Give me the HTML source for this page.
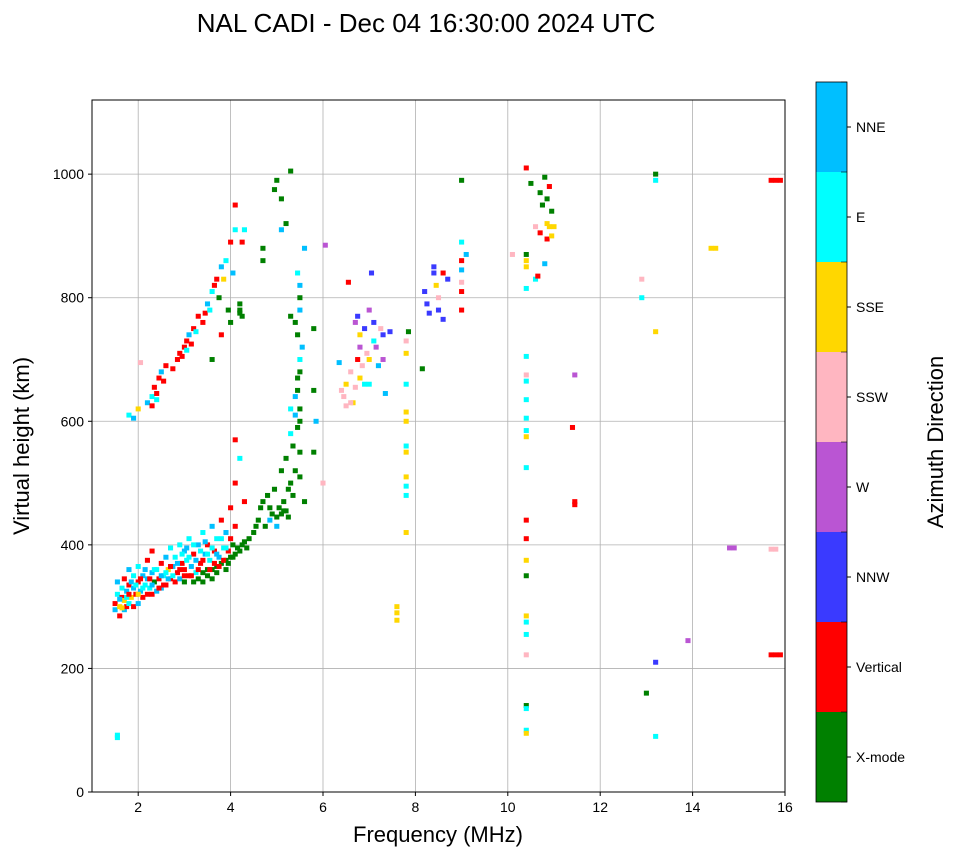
<!DOCTYPE html>
<html><head><meta charset="utf-8"><style>
body{margin:0;background:#fff;font-family:"Liberation Sans",sans-serif}
svg text{font-family:"Liberation Sans",sans-serif}
</style></head><body>
<svg id="chart" width="958" height="857" viewBox="0 0 958 857" xmlns="http://www.w3.org/2000/svg">
<text x="426" y="32" font-size="26" text-anchor="middle">NAL CADI - Dec 04 16:30:00 2024 UTC</text>
<g id="grid"></g>
<g id="marks"></g>
<rect x="92" y="100" width="693" height="692" fill="none" stroke="#000" stroke-width="1"/>
<g id="ticks"></g>
<text x="438" y="842" font-size="22" text-anchor="middle">Frequency (MHz)</text>
<text transform="translate(29,446) rotate(-90)" font-size="22" text-anchor="middle">Virtual height (km)</text>
<g id="cbar"></g>
<text transform="translate(943,442) rotate(-90)" font-size="22" text-anchor="middle">Azimuth Direction</text>
</svg>
<script>
const categories=["X-mode","Vertical","NNW","W","SSW","SSE","E","NNE"];
const colors=["#008000","#ff0000","#3a3aff","#ba55d3","#ffb6c1","#ffd700","#00ffff","#00bfff"];
const xTicks=[2,4,6,8,10,12,14,16];
const yTicks=[0,200,400,600,800,1000];
const points=[
[1.5,295,7],[1.5,305,1],[1.55,320,6],[1.55,340,7],[1.6,285,1],[1.6,300,5],[1.65,315,1],[1.65,330,6],[1.7,295,7],[1.7,310,5],[1.7,345,1],[1.75,300,1],[1.75,325,7],[1.8,305,6],[1.8,335,1],[1.8,360,7],[1.85,315,5],[1.9,300,1],[1.9,330,7],[1.9,350,6],[1.95,320,1],[2.0,305,7],[2.0,340,1],[2.0,365,6],[2.05,325,7],[2.1,315,1],[2.1,350,7],[2.15,335,6],[2.2,320,1],[2.2,345,7],[2.2,375,1],[2.25,330,6],[2.3,320,1],[2.3,355,7],[2.3,390,1],[2.35,340,0],[2.4,325,7],[2.4,360,6],[2.45,345,1],[2.5,330,7],[2.5,370,1],[2.55,350,6],[2.6,335,1],[2.6,380,7],[2.65,360,5],[2.7,345,1],[2.7,395,6],[2.75,365,7],[2.8,340,1],[2.8,380,6],[2.85,355,1],[2.9,345,7],[2.9,400,6],[2.95,370,1],[3.0,340,0],[3.0,360,1],[3.0,390,7],[3.05,375,6],[3.1,350,1],[3.1,410,6],[3.15,365,7],[3.2,340,0],[3.2,385,1],[3.25,355,6],[3.3,345,0],[3.3,400,7],[3.35,370,1],[3.4,355,0],[3.4,420,6],[3.45,385,7],[3.5,360,0],[3.5,400,1],[3.55,375,6],[3.6,360,0],[3.6,430,7],[3.65,390,1],[3.7,365,0],[3.7,410,6],[3.75,380,7],[3.8,370,0],[3.8,440,1],[3.85,395,6],[3.9,375,0],[3.9,420,7],[3.95,390,1],[4.0,380,0],[4.0,460,1],[4.05,400,0],[4.1,385,0],[4.1,430,1],[4.1,500,1],[4.1,570,1],[4.15,395,0],[4.2,390,0],[4.2,540,6],[4.25,400,0],[4.3,470,1],[4.3,405,0],
[1.6,312,7],[1.65,298,5],[1.75,315,6],[1.8,320,1],[1.85,340,7],[1.95,335,6],[2.0,320,5],[2.05,345,1],[2.1,330,6],[2.15,360,7],[2.25,345,1],[2.3,335,7],[2.35,360,6],[2.45,330,1],[2.5,350,7],[2.55,335,1],[2.6,355,6],[2.65,345,7],[2.7,365,1],[2.75,350,6],[2.85,370,7],[2.9,360,1],[2.95,385,6],[3.0,350,1],[3.05,395,7],[3.1,380,6],[3.15,350,1],[3.2,400,6],[3.25,375,7],[3.3,360,1],[3.35,390,6],[3.4,375,1],[3.45,405,7],[3.5,385,6],[3.55,360,1],[3.6,395,6],[3.65,370,1],[3.7,385,7],[3.75,365,1],[3.8,410,6],[3.85,375,1],[3.9,395,6],[3.95,370,0],[4.0,410,1],[4.05,380,0],[3.6,345,0],[3.4,340,0],[3.5,350,0],[3.7,355,0],[3.9,360,0],
[1.55,92,6],[1.55,88,6],
[1.8,610,6],[1.9,605,7],[2.0,620,5],[2.05,695,4],[2.2,630,7],[2.3,640,6],[2.35,655,1],[2.4,645,1],[2.45,670,1],[2.5,680,7],[2.6,690,1],[2.75,685,1],[2.85,700,1],[2.9,710,1],[3.0,720,1],[3.05,715,6],[3.1,740,7],[3.2,750,1],[3.3,770,1],[3.4,760,1],[3.5,790,7],[3.6,810,6],[3.6,700,0],[3.7,830,1],[3.75,800,0],[3.8,850,7],[3.9,860,6],[3.95,780,0],[4.0,890,1],[4.0,760,0],[4.1,950,1],[4.1,910,6],[4.2,790,0],[4.2,775,0],[4.25,890,1],[3.8,740,1],[4.3,910,6],
[2.3,625,1],[2.4,635,6],[2.55,665,1],[2.95,705,1],[3.05,730,1],[3.15,725,1],[3.25,745,6],[3.45,775,1],[3.55,780,6],[3.65,820,1],[3.85,830,5],[4.05,840,7],[4.2,780,0],[4.25,770,0],
[4.35,395,0],[4.4,410,0],[4.5,420,0],[4.6,440,0],[4.65,460,0],[4.7,470,0],[4.75,430,0],[4.8,480,0],[4.85,440,7],[4.9,450,0],[4.95,490,0],[5.0,430,7],[5.05,460,0],[5.1,450,0],[5.1,520,0],[5.15,470,0],[5.2,455,0],[5.2,540,0],[5.25,490,0],[5.3,500,0],[5.3,580,6],[5.35,560,0],[5.4,610,7],[5.45,650,0],[5.5,700,6],[5.45,740,0],[5.5,780,7],[5.5,820,7],[5.45,840,6],[5.4,760,0],[5.3,770,0],[5.6,880,7],[5.2,920,0],[5.1,960,0],[5.0,990,0],[5.3,1005,0],[4.95,975,0],[4.7,880,0],[4.7,860,0],[5.1,910,7],[5.4,640,7],[5.3,620,6],[5.5,620,0],[5.45,670,0],[5.5,550,0],[5.5,510,0],[5.6,470,0],[5.8,650,0],[5.85,600,7],[5.8,550,0],[5.8,750,0],[6.0,500,4],[6.05,885,3],
[4.55,430,0],[4.85,460,0],[5.0,445,0],[5.15,455,0],[5.25,445,0],[5.35,480,0],[5.4,520,0],[5.45,590,0],[5.5,600,0],[5.5,680,0],[5.55,720,7],[5.5,800,0],
[6.35,695,7],[6.4,650,4],[6.45,640,4],[6.5,660,5],[6.5,625,4],[6.55,825,1],[6.6,680,4],[6.65,630,5],[6.7,655,4],[6.7,760,3],[6.75,770,2],[6.8,720,3],[6.8,740,5],[6.75,700,1],[6.85,690,4],[6.9,750,2],[6.9,660,6],[6.95,710,4],[7.0,780,3],[7.0,700,5],[7.05,840,2],[7.1,730,6],[7.1,760,2],[7.15,720,3],[7.2,690,7],[7.25,750,4],[7.3,740,2],[7.3,700,3],[7.35,645,7],[7.45,745,2],[6.6,630,4],[6.8,670,5],[7.0,660,6],
[7.8,420,5],[7.8,480,6],[7.8,495,6],[7.8,510,5],[7.8,550,5],[7.8,560,6],[7.8,600,5],[7.8,615,5],[7.8,660,6],[7.8,710,5],[7.8,730,4],[7.6,300,5],[7.6,290,5],[7.6,278,5],[7.85,745,0],[8.15,685,0],
[8.2,810,2],[8.25,790,2],[8.3,775,2],[8.4,850,2],[8.4,840,2],[8.45,820,5],[8.5,800,4],[8.5,780,2],[8.6,765,2],[8.6,840,1],[8.7,830,2],[9.0,990,0],[9.0,890,6],[9.0,860,1],[9.0,845,7],[9.0,825,4],[9.0,810,1],[9.0,780,1],[9.1,870,7],[10.1,870,4],
[10.4,100,6],[10.4,95,5],[10.4,140,0],[10.4,135,6],[10.4,222,4],[10.4,255,6],[10.4,275,6],[10.4,285,5],[10.4,350,0],[10.4,375,5],[10.4,410,1],[10.4,440,1],[10.4,525,6],[10.4,575,5],[10.4,585,6],[10.4,605,6],[10.4,635,6],[10.4,665,6],[10.4,675,4],[10.4,705,6],[10.4,815,6],[10.4,850,5],[10.4,860,5],[10.4,870,0],[10.4,1010,1],
[10.5,985,0],[10.6,915,4],[10.6,830,6],[10.65,835,1],[10.7,970,0],[10.7,905,1],[10.75,950,0],[10.8,995,0],[10.85,920,5],[10.85,960,0],[10.85,895,1],[10.9,980,1],[10.9,915,5],[10.95,940,0],[10.95,900,5],[11.0,915,5],[10.8,855,7],[11.4,590,1],[11.45,465,1],[11.45,470,1],[11.45,675,3],
[12.9,830,4],[12.9,800,6],[13.0,160,0],[13.2,990,6],[13.2,1000,0],[13.2,745,5],[13.2,210,2],[13.2,90,6],[13.9,245,3],[14.4,880,5],[14.5,880,5],[14.8,395,3],[14.9,395,3],[15.7,990,1],[15.8,990,1],[15.9,990,1],[15.7,222,1],[15.8,222,1],[15.9,222,1],[15.7,393,4],[15.8,393,4]
];
const NS="http://www.w3.org/2000/svg";
const X0=92,X1=785,Y0=792,Y1=100,FMIN=1,FMAX=16,HMIN=0,HMAX=1120;
function xs(f){return X0+(f-FMIN)/(FMAX-FMIN)*(X1-X0);}
function ys(h){return Y0-(h-HMIN)/(HMAX-HMIN)*(Y0-Y1);}
function mk(tag,attrs,parent){const e=document.createElementNS(NS,tag);for(const k in attrs)e.setAttribute(k,attrs[k]);parent.appendChild(e);return e;}
const grid=document.getElementById('grid'),ticks=document.getElementById('ticks'),marks=document.getElementById('marks'),cbar=document.getElementById('cbar');
xTicks.forEach(t=>{const x=xs(t);
 const g=mk('line',{x1:x,x2:x,y1:Y1,y2:Y0,stroke:'#b0b0b0','stroke-width':0.8},grid);
 
 const tk=mk('line',{x1:x,x2:x,y1:Y0,y2:Y0+4,stroke:'#000'},ticks);
 
 const tx=mk('text',{x:x,y:Y0+20,'font-size':14,'text-anchor':'middle'},ticks);tx.textContent=t;
 });
yTicks.forEach(t=>{const y=ys(t);
 const g=mk('line',{x1:X0,x2:X1,y1:y,y2:y,stroke:'#b0b0b0','stroke-width':0.8},grid);
 
 const tk=mk('line',{x1:X0-4,x2:X0,y1:y,y2:y,stroke:'#000'},ticks);
 
 const tx=mk('text',{x:X0-8,y:y+5,'font-size':14,'text-anchor':'end'},ticks);tx.textContent=t;
 });
points.forEach(p=>{const w=xs(p[0]+0.11)-xs(p[0]);const h=ys(0)-ys(8);
 const r=mk('rect',{x:xs(p[0])-w/2,y:ys(p[1])-h/2,width:w,height:h,fill:colors[p[2]]},marks);
 
 });
const CB_X=816,CB_W=31,CB_TOP=82,CB_BOT=802,seg=(CB_BOT-CB_TOP)/categories.length;
categories.forEach((c,i)=>{const y=CB_BOT-(i+1)*seg;
 const r=mk('rect',{x:CB_X,y:y,width:CB_W,height:seg,fill:colors[i]},cbar);
 
 const tk=mk('line',{x1:CB_X+CB_W,x2:CB_X+CB_W+4,y1:y+seg/2,y2:y+seg/2,stroke:'#000'},cbar);
 
 const tx=mk('text',{x:CB_X+CB_W+9,y:y+seg/2+5,'font-size':14},cbar);tx.textContent=c;
 });
for(let i=0;i<=categories.length;i++){const y=CB_TOP+i*seg;
 const b=mk('line',{x1:CB_X+CB_W-6,x2:CB_X+CB_W,y1:y,y2:y,stroke:'#000','stroke-width':0.6},cbar);
 }
const fr=mk('rect',{x:CB_X,y:CB_TOP,width:CB_W,height:CB_BOT-CB_TOP,fill:'none',stroke:'#000','stroke-width':0.8},cbar);

</script>
</body></html>
